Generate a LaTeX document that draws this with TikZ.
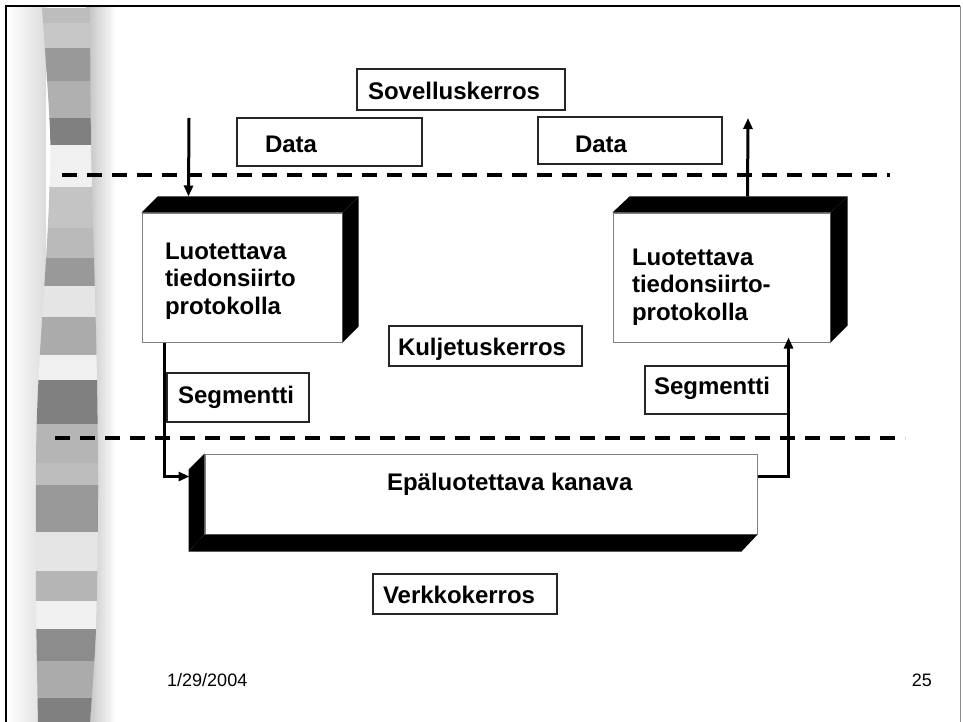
\documentclass[tikz,border=0pt]{standalone}
\usepackage{fontspec}
\setmainfont{Liberation Sans}
\usetikzlibrary{arrows.meta,calc}
\newcommand{\plc}[4]{\makebox[#1pt][l]{\hspace{#2pt}\smash{\raisebox{#3pt}{#4}}}}
\tikzset{
  lbl/.style={draw=black!85, line width=1.2pt, fill=white, inner sep=0pt,
    font=\bfseries\fontsize{24}{27.5}\selectfont},
  face/.style={draw=black!50, line width=1pt, fill=white, inner sep=0pt,
    font=\bfseries\fontsize{24}{27.5}\selectfont},
  conn/.style={line width=3pt, -{Triangle[length=11pt,width=9pt]}},
  dline/.style={line width=4pt, dash pattern=on 15pt off 10pt},
  foot/.style={inner sep=0pt, font=\fontsize{18}{20}\selectfont}
}
\begin{document}
\begin{tikzpicture}[x=1pt,y=-1pt]
\useasboundingbox (0,0) rectangle (963,722);
\fill[white] (0,0) rectangle (963,722);
% side shading
\shade[left color=white,right color=black!14] (8,8) rectangle (46,722);
\shade[left color=black!25,right color=white] (86,8) rectangle (116,722);
% striped band
\begin{scope}
\clip plot[smooth] coordinates {(42,8) (50,130) (49,200) (46,260) (42,320) (38,390) (36,460) (36,600) (38,722)}
  -- plot[smooth] coordinates {(90,722) (96,629) (98,500) (97,380) (94,258) (91,145) (90,8)} -- cycle;
\foreach \a/\b/\c in {0/23/26,23/48/22,48/81/40,81/118/31,118/145/50,145/187/6,187/228/23,
  228/258/27,258/286/40,286/317/10,317/355/33,355/380/6,380/424/50,424/463/29,463/485/26,
  485/532/40,532/571/10,571/601/29,601/629/6,629/661/45,661/698/33,698/722/50}
  \fill[black!\c] (30,\a) rectangle (110,\b);
\end{scope}
% frame
\draw[black!45, line width=1pt] (960,6) -- (960,722);
\draw[line width=2.5pt] (6,722) -- (6,6) -- (960,6);
% dashed layer lines
\draw[dline] (62,175) -- (890,175);
\draw[dline] (55,438) -- (905,438);
% label boxes
\node[lbl, minimum width=208pt, minimum height=41pt] (sov) at (461,89.5) {\plc{208}{11}{-10.5}{Sovelluskerros}};
\node[lbl, minimum width=185pt, minimum height=48pt] (data1) at (329.5,142) {\plc{185}{28}{-11}{Data}};
\node[lbl, minimum width=184pt, minimum height=47pt] (data2) at (630,140.5) {\plc{184}{37}{-12.5}{Data}};
\node[lbl, minimum width=193pt, minimum height=40pt] (kulj) at (485.5,346) {\plc{193}{9}{-9}{Kuljetuskerros}};
\node[lbl, minimum width=142pt, minimum height=49pt] (seg1) at (238,397.5) {\plc{142}{11}{-5.5}{Segmentti}};
\node[lbl, minimum width=143pt, minimum height=48pt] (seg2) at (716.5,390) {\plc{143}{9}{-4}{Segmentti}};
\node[lbl, minimum width=184pt, minimum height=40pt] (verk) at (465,594) {\plc{184}{10}{-9}{Verkkokerros}};
% 3D boxes
\node[face, minimum width=200pt, minimum height=129pt] (lbox) at (242,277.5)
  {\plc{200}{23}{18.5}{\begin{tabular}[t]{@{}l@{}}Luotettava\\tiedonsiirto\\protokolla\end{tabular}}};
\fill (lbox.north west) -- ++(16,-16) -- ($(lbox.north east)+(16,-16)$) -- (lbox.north east) -- cycle;
\fill (lbox.north east) -- ++(16,-16) -- ++(0,130) -- (lbox.south east) -- cycle;
\node[face, minimum width=217pt, minimum height=129pt] (rbox) at (721.5,277.5)
  {\plc{217}{19}{12.5}{\begin{tabular}[t]{@{}l@{}}Luotettava\\tiedonsiirto-\\protokolla\end{tabular}}};
\fill (rbox.north west) -- ++(17,-16) -- ($(rbox.north east)+(17,-16)$) -- (rbox.north east) -- cycle;
\fill (rbox.north east) -- ++(17,-16) -- ++(0,129) -- (rbox.south east) -- cycle;
\node[face, minimum width=552pt, minimum height=80pt] (kan) at (481,494)
  {\plc{552}{182}{4}{Epäluotettava kanava}};
\fill (kan.north west) -- ++(-16,16) -- ($(kan.south west)+(-16,17)$) -- (kan.south west) -- cycle;
\fill (kan.south west) -- ++(-16,17) -- ($(kan.south east)+(-16,17)$) -- (kan.south east) -- cycle;
% connectors
\coordinate (din) at (189,118);
\coordinate (dout) at (748,118);
\draw[conn] (din) -- ($(lbox.north west)+(47,-16)$);
\draw[conn] ($(rbox.north west)+(135,-16)$) -- (dout);
\draw[conn] ($(lbox.south west)+(23,0)$) |- ($(kan.north west)+(-15,23)$);
\draw[conn] ($(kan.north east)+(0,23)$) -| ($(rbox.south west)+(176,-5)$);
% footer
\node[foot, anchor=base west] (date) at (167,686) {1/29/2004};
\node[foot, anchor=base east] (num) at (932,686) {25};
\end{tikzpicture}
\end{document}
